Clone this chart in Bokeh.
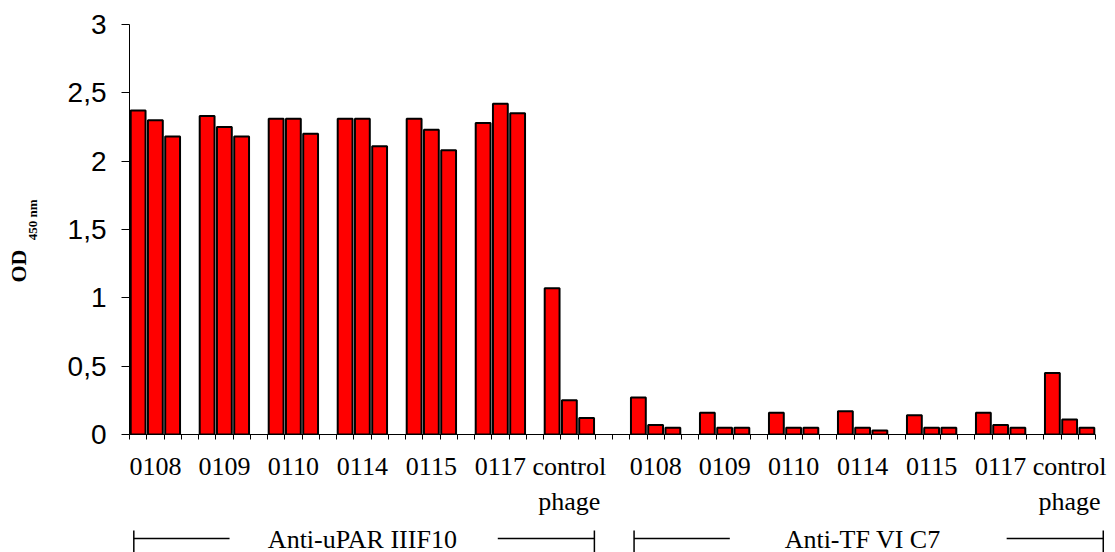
import math
from bokeh.plotting import figure
from bokeh.layouts import column, row
from bokeh.models import FixedTicker, Range1d, ColumnDataSource
from bokeh.core.properties import value
from bokeh.embed import file_html
from bokeh.resources import INLINE

# ---------------- data ----------------
groups = ["0108", "0109", "0110", "0114", "0115", "0117", "control\nphage"]
set_names = ["Anti-uPAR IIIF10", "Anti-TF VI C7"]

upar_1 = [2.37, 2.33, 2.31, 2.31, 2.31, 2.28, 1.07]
upar_2 = [2.30, 2.25, 2.31, 2.31, 2.23, 2.42, 0.25]
upar_3 = [2.18, 2.18, 2.20, 2.11, 2.08, 2.35, 0.12]

tf_1 = [0.27, 0.16, 0.16, 0.17, 0.14, 0.16, 0.45]
tf_2 = [0.07, 0.05, 0.05, 0.05, 0.05, 0.07, 0.11]
tf_3 = [0.05, 0.05, 0.05, 0.03, 0.05, 0.05, 0.05]

y_ticks = [0, 0.5, 1, 1.5, 2, 2.5, 3]
y_tick_labels = ["0", "0,5", "1", "1,5", "2", "2,5", "3"]

# ---------------- layout of slots ----------------
n = len(groups)
slots_per_group = 4
set_offsets = [0, slots_per_group * n + 1]
x_end = set_offsets[1] + slots_per_group * (n - 1) + 3

W, H = 1115, 552
STRIP = 40                 # left strip holding the y title
LEFT = 129                 # page x of the y axis
AXIS_RIGHT = 1095          # page x of the end of the x axis
TOP, FRAME_H = 24, 410
H1 = 528
H2 = H - H1
slot_px = (AXIS_RIGHT - LEFT) / x_end
x_range = Range1d(0, x_end + (W - AXIS_RIGHT) / slot_px)

xs, tops = [], []
for off, series in zip(set_offsets, [(upar_1, upar_2, upar_3), (tf_1, tf_2, tf_3)]):
    for g in range(n):
        for k in range(3):
            xs.append(off + slots_per_group * g + k + 0.5)
            tops.append(series[k][g])

src = ColumnDataSource(dict(x=xs, top=tops))

p = figure(width=W - STRIP, height=H1, output_backend="svg", toolbar_location=None,
           x_range=x_range, y_range=Range1d(0, 3),
           min_border_left=LEFT - STRIP, min_border_right=0, min_border_top=TOP,
           min_border_bottom=H1 - TOP - FRAME_H)
p.outline_line_color = None
p.xgrid.visible = False
p.ygrid.visible = False

p.vbar(x="x", top="top", bottom=0, width=0.86, source=src,
       fill_color="#FF0000", line_color="black", line_width=2)

# x axis: labels at group centres, small ticks at every slot
centers = []
overrides = {}
for off in set_offsets:
    for g, name in enumerate(groups):
        c = off + slots_per_group * g + 1.5
        centers.append(c)
        overrides[c] = name
p.xaxis.bounds = (0, x_end)
p.xaxis.ticker = FixedTicker(ticks=centers, minor_ticks=list(range(0, x_end + 1)))
p.xaxis.major_label_overrides = overrides
p.xaxis.major_tick_out = 0
p.xaxis.major_tick_in = 0
p.xaxis.minor_tick_out = 5
p.xaxis.minor_tick_in = 0
p.xaxis.minor_tick_line_color = "black"
p.xaxis.axis_line_color = "black"
p.xaxis.major_label_text_font = "Liberation Serif"
p.xaxis.major_label_text_font_size = "26px"
p.xaxis.major_label_text_line_height = 1.22
p.xaxis.major_label_text_color = "black"
p.xaxis.major_label_standoff = 12

# y axis
p.yaxis.ticker = FixedTicker(ticks=y_ticks, minor_ticks=[])
p.yaxis.major_label_overrides = {t: l for t, l in zip(y_ticks, y_tick_labels)}
p.yaxis.major_tick_out = 8
p.yaxis.major_tick_in = 0
p.yaxis.minor_tick_out = 0
p.yaxis.minor_tick_in = 0
p.yaxis.axis_line_color = "black"
p.yaxis.major_tick_line_color = "black"
p.yaxis.major_label_text_font = "Liberation Sans"
p.yaxis.major_label_text_font_size = "28px"
p.yaxis.major_label_text_color = "black"
p.yaxis.major_label_standoff = 15

# ---------------- left strip: y title "OD" with subscript ----------------
pl = figure(width=STRIP, height=H, output_backend="svg", toolbar_location=None,
            x_range=Range1d(0, STRIP), y_range=Range1d(0, 3),
            min_border_left=0, min_border_right=0, min_border_top=TOP,
            min_border_bottom=H - TOP - FRAME_H)
pl.outline_line_color = None
pl.axis.visible = False
pl.grid.visible = False
pl.text(x=[17.6], y=[1.233], text=["OD"], angle=math.pi / 2,
        text_font=value("Liberation Serif"), text_font_style="bold",
        text_font_size="22px", text_align="center", text_baseline="middle",
        text_color="black")
pl.text(x=[32.0], y=[1.57], text=["450 nm"], angle=math.pi / 2,
        text_font=value("Liberation Serif"), text_font_style="bold",
        text_font_size="13px", text_align="center", text_baseline="middle",
        text_color="black")

# ---------------- set labels with brackets (bottom strip) ----------------
p2 = figure(width=W - STRIP, height=H2, output_backend="svg", toolbar_location=None,
            x_range=x_range, y_range=Range1d(0, 1),
            min_border_left=LEFT - STRIP, min_border_right=0, min_border_top=0,
            min_border_bottom=0)
p2.outline_line_color = None
p2.axis.visible = False
p2.grid.visible = False

overhang = [-0.05, 0.45]
hx0, hx1, vx = [], [], []
tx = []
for off, oh in zip(set_offsets, overhang):
    last = off + slots_per_group * (n - 1) + 3
    left_end = off + 0.25
    right_end = last + oh
    hx0 += [left_end, right_end - 5.6]
    hx1 += [left_end + 5.55, right_end]
    vx += [left_end, right_end]
    tx.append((off + last) / 2)

p2.segment(x0=hx0, x1=hx1, y0=0.58, y1=0.58, line_color="black", line_width=1.5)
p2.segment(x0=vx, x1=vx, y0=0.0, y1=0.92, line_color="black", line_width=1.5)
p2.text(x=tx, y=0.55, text=set_names, text_font=value("Liberation Serif"),
        text_font_size="26px", text_align="center", text_baseline="middle",
        text_color="black")

layout = row(pl, column(p, p2, spacing=0), spacing=0)
open("out.html", "w").write(file_html(layout, INLINE))
